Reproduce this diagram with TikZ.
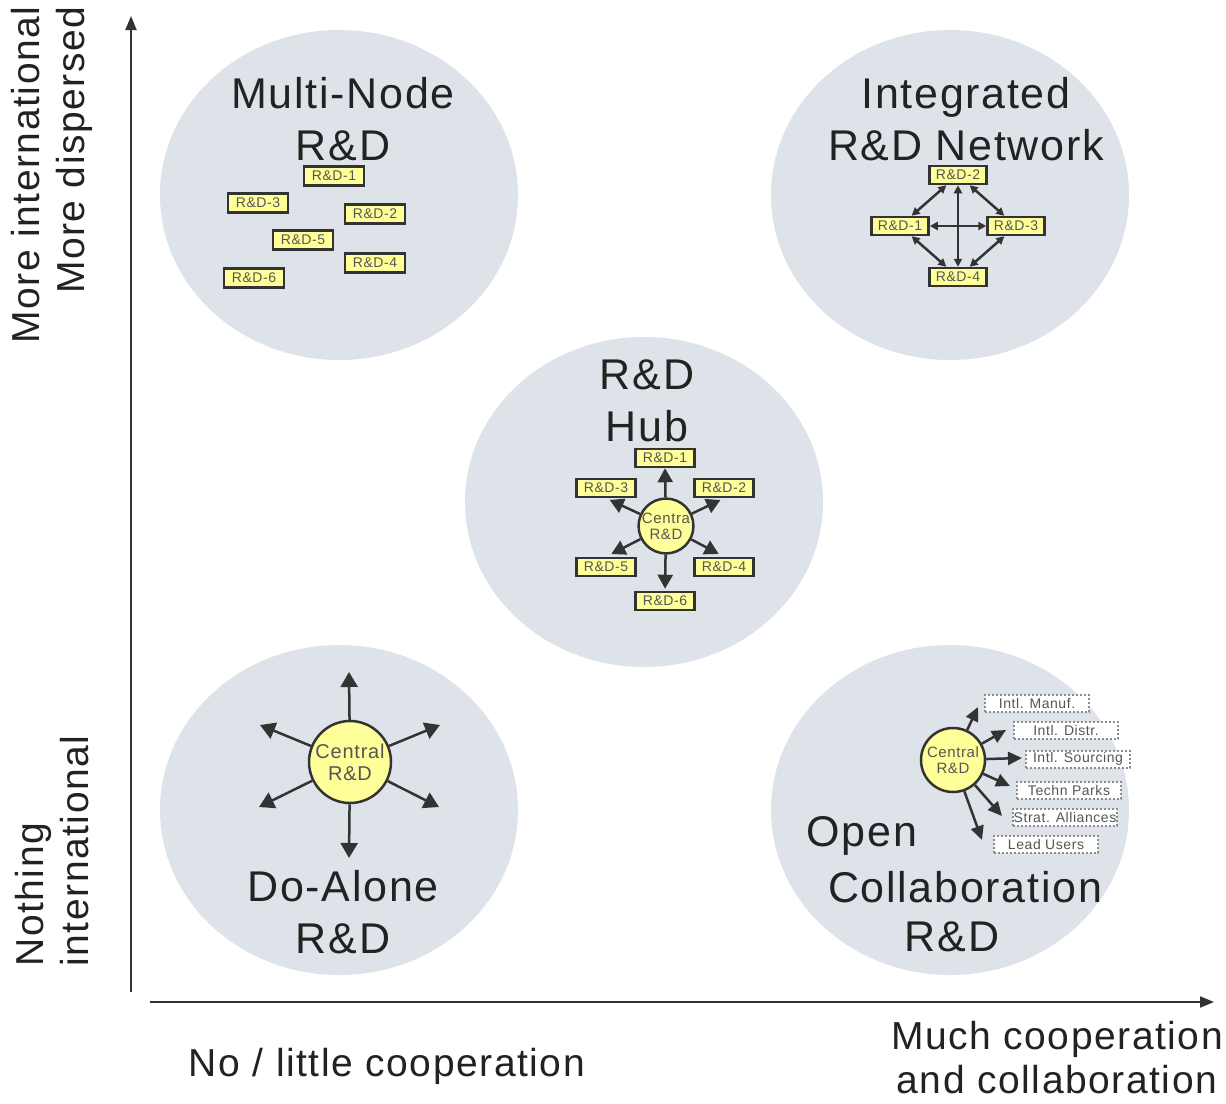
\documentclass[tikz,border=0pt]{standalone}
\usepackage{fontspec}
\setmainfont{Liberation Sans}[LetterSpace=4]
\usetikzlibrary{arrows.meta}
\definecolor{bubble}{RGB}{222,226,233}
\definecolor{ink}{RGB}{51,51,51}
\definecolor{boxyellow}{RGB}{255,255,153}
\definecolor{txt}{RGB}{34,34,34}
\definecolor{smalltxt}{RGB}{85,85,85}
\definecolor{dotgray}{RGB}{140,140,140}
\begin{document}
\begin{tikzpicture}[x=1pt,y=-1pt,
  bubblefill/.style={fill=bubble},
  title/.style={font=\fontsize{43}{52}\selectfont, text=txt, align=center, inner sep=0pt},
  axislbl/.style={font=\fontsize{39}{45}\selectfont, text=txt, inner sep=0pt},
  rdbox/.style={draw=ink, line width=2.5pt, fill=boxyellow, font=\fontsize{14}{14}\selectfont, text=smalltxt, inner sep=0pt, minimum width=60pt, minimum height=19pt},
  netbox/.style={rdbox, minimum width=57pt, minimum height=18pt},
  hubbox/.style={rdbox, minimum width=59pt, minimum height=18pt},
  dotbox/.style={draw=dotgray, line width=2pt, dash pattern=on 2pt off 2pt, fill=white, font=\fontsize{14}{14}\selectfont, text=smalltxt, inner sep=0pt, minimum width=104pt, minimum height=17pt},
  central/.style={circle, draw=ink, line width=2.5pt, fill=boxyellow, align=center, text=smalltxt, inner sep=0pt},
  axisarrow/.style={draw=ink, line width=2pt, -{Triangle[length=14pt,width=11pt]}},
  hubarrow/.style={draw=ink, line width=2.5pt, -{Triangle[length=14pt,width=15pt]}},
  alonearrow/.style={draw=ink, line width=2.5pt, -{Triangle[length=15pt,width=17pt]}},
  openarrow/.style={draw=ink, line width=2.5pt, -{Triangle[length=14pt,width=13pt]}},
  netarrow/.style={draw=ink, line width=2.5pt, {Triangle[length=8pt,width=8pt]}-{Triangle[length=8pt,width=8pt]}}
]
\useasboundingbox (0,0) rectangle (1226,1103);
\fill[white] (0,0) rectangle (1226,1103);

% bubbles
\fill[bubblefill] (339,195) ellipse [x radius=179pt, y radius=165pt];
\fill[bubblefill] (950,195) ellipse [x radius=179pt, y radius=165pt];
\fill[bubblefill] (644,502) ellipse [x radius=179pt, y radius=165pt];
\fill[bubblefill] (339,810) ellipse [x radius=179pt, y radius=165pt];
\fill[bubblefill] (950,810) ellipse [x radius=179pt, y radius=165pt];

% axes
\coordinate (yb) at (131,992);
\coordinate (yt) at (131,16);
\coordinate (xl) at (150,1002);
\coordinate (xr) at (1214,1002);
\draw[axisarrow] (yb) -- (yt);
\draw[axisarrow] (xl) -- (xr);

% axis labels
\node[axislbl, rotate=90, align=right] (ylhi) at (52,175) {More international\\More dispersed};
\node[axislbl, rotate=90, align=left] (yllo) at (52,851) {Nothing\\international};
\node[axislbl] (xllo) at (387,1066) {No / little cooperation};
\node[axislbl, align=center, font=\fontsize{39}{44}\selectfont] (xlhi) at (1057,1058) {Much cooperation\\and collaboration};

% titles
\node[title] (tmn) at (343,119) {Multi-Node\\R\&D};
\node[title] (tin) at (966,119) {Integrated\\R\&D Network};
\node[title] (thub) at (647,401) {R\&D\\Hub};
\node[title] (tda) at (343,912) {Do-Alone\\R\&D};
\node[title] (topen) at (862,836) {Open};
\node[title] (tcol) at (965,887) {Collaboration};
\node[title] (trd) at (952,937) {R\&D};

% Multi-node boxes
\node[rdbox] (m1) at (334,176) {R\&D-1};
\node[rdbox] (m3) at (258,203) {R\&D-3};
\node[rdbox] (m2) at (375,214) {R\&D-2};
\node[rdbox] (m5) at (303,240) {R\&D-5};
\node[rdbox] (m4) at (375,263) {R\&D-4};
\node[rdbox] (m6) at (254,278) {R\&D-6};

% Integrated network
\node[netbox] (n2) at (958,175) {R\&D-2};
\node[netbox] (n1) at (900,226) {R\&D-1};
\node[netbox] (n3) at (1016,226) {R\&D-3};
\node[netbox] (n4) at (958,277) {R\&D-4};
\draw[netarrow] (n2) -- (n1);
\draw[netarrow] (n2) -- (n3);
\draw[netarrow] (n1) -- (n4);
\draw[netarrow] (n3) -- (n4);
\draw[netarrow] (n1) -- (n3);
\draw[netarrow] (n2) -- (n4);

% Hub
\node[central, minimum size=54pt, font=\fontsize{15}{16}\selectfont] (hc) at (666,526) {Centra\\R\&D};
\node[hubbox] (h1) at (665,458) {R\&D-1};
\node[hubbox] (h3) at (606,488) {R\&D-3};
\node[hubbox] (h2) at (724,488) {R\&D-2};
\node[hubbox] (h5) at (606,567) {R\&D-5};
\node[hubbox] (h4) at (724,567) {R\&D-4};
\node[hubbox] (h6) at (665,601) {R\&D-6};
\draw[hubarrow] (hc) -- (h1.south);
\draw[hubarrow, shorten >=4pt] (hc) -- (h3.south);
\draw[hubarrow, shorten >=4pt] (hc) -- (h2.south);
\draw[hubarrow, shorten >=6pt] (hc) -- (h5.north);
\draw[hubarrow, shorten >=6pt] (hc) -- (h4.north);
\draw[hubarrow, shorten >=2pt] (hc) -- (h6.north);

% Do-Alone
\node[central, minimum size=82pt, font=\fontsize{20}{22}\selectfont] (dc) at (350,762) {Central\\R\&D};
\coordinate (dup) at (349,672);
\coordinate (ddn) at (349,858);
\coordinate (dul) at (260,725);
\coordinate (dur) at (440,725);
\coordinate (dll) at (259,807);
\coordinate (dlr) at (439,807);
\draw[alonearrow] (dc) -- (dup);
\draw[alonearrow] (dc) -- (ddn);
\draw[alonearrow] (dc) -- (dul);
\draw[alonearrow] (dc) -- (dur);
\draw[alonearrow] (dc) -- (dll);
\draw[alonearrow] (dc) -- (dlr);

% Open collaboration
\node[dotbox] (o1) at (1037,703) {Intl. Manuf.};
\node[dotbox] (o2) at (1066,730) {Intl. Distr.};
\node[dotbox] (o3) at (1078,759) {Intl. Sourcing};
\node[dotbox] (o4) at (1069,790) {Techn Parks};
\node[dotbox] (o5) at (1065,817) {Strat. Alliances};
\node[dotbox] (o6) at (1046,844) {Lead Users};
\node[central, minimum size=64pt, font=\fontsize{15}{16}\selectfont] (oc) at (953,760) {Central\\R\&D};
\coordinate (oe1) at (978,707);
\coordinate (oe2) at (1006,730);
\coordinate (oe3) at (1022,758);
\coordinate (oe4) at (1010,786);
\coordinate (oe5) at (1002,816);
\coordinate (oe6) at (982,840);
\draw[openarrow] (oc) -- (oe1);
\draw[openarrow] (oc) -- (oe2);
\draw[openarrow] (oc) -- (oe3);
\draw[openarrow] (oc) -- (oe4);
\draw[openarrow] (oc) -- (oe5);
\draw[openarrow] (oc) -- (oe6);
\end{tikzpicture}
\end{document}
